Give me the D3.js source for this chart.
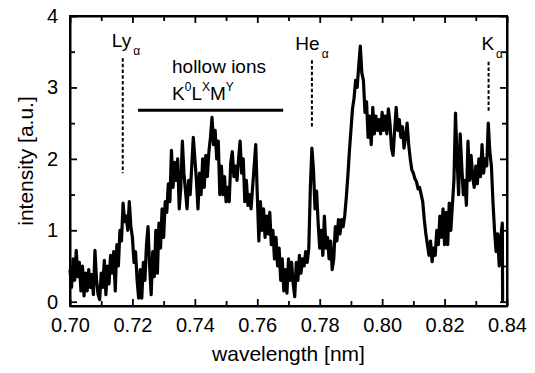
<!DOCTYPE html>
<html><head><meta charset="utf-8">
<script src="https://cdn.jsdelivr.net/npm/d3@7"></script>
<style>
html,body{margin:0;padding:0;background:#fff;}
svg{display:block;font-family:"Liberation Sans",Arial,sans-serif;}
</style></head>
<body><svg id="chart" width="535" height="373"></svg>
<script>
const spectrum = [
[0.7000,0.45],[0.7005,0.2],[0.7010,0.6],[0.7015,0.3],[0.7020,0.72],[0.7025,0.35],[0.7030,0.55],[0.7035,0.15],[0.7040,0.5],[0.7045,0.08],
[0.7050,0.4],[0.7055,0.15],[0.7060,0.45],[0.7065,0.2],[0.7070,0.38],[0.7075,0.1],[0.7080,0.72],[0.7085,0.3],[0.7090,0.1],[0.7095,0.03],
[0.7100,0.4],[0.7105,0.2],[0.7110,0.58],[0.7115,0.1],[0.7120,0.5],[0.7125,0.25],[0.7130,0.65],[0.7135,0.4],[0.7140,0.7],[0.7145,0.15],
[0.7150,0.8],[0.7155,0.5],[0.7160,1.0],[0.7165,0.85],[0.7170,1.38],[0.7175,1.12],[0.7180,1.2],[0.7185,1.0],[0.7190,1.4],[0.7195,1.05],
[0.7200,0.9],[0.7205,0.55],[0.7210,0.7],[0.7215,0.3],[0.7220,0.05],[0.7225,0.45],[0.7230,0.05],[0.7235,0.55],[0.7240,0.3],[0.7245,0.8],
[0.7250,1.05],[0.7255,0.5],[0.7260,0.1],[0.7265,0.7],[0.7270,0.35],[0.7275,1.0],[0.7280,0.4],[0.7285,1.1],[0.7290,0.75],[0.7295,1.3],
[0.7300,0.9],[0.7305,1.4],[0.7310,1.25],[0.7315,1.65],[0.7320,1.4],[0.7325,2.12],[0.7330,1.6],[0.7335,1.95],[0.7340,1.7],[0.7345,2.0],
[0.7350,1.3],[0.7355,1.6],[0.7360,2.25],[0.7365,1.8],[0.7370,1.55],[0.7375,1.3],[0.7380,1.7],[0.7385,1.5],[0.7390,1.9],[0.7395,2.3],
[0.7400,2.0],[0.7405,1.7],[0.7410,1.3],[0.7415,1.8],[0.7420,1.5],[0.7425,2.0],[0.7430,1.6],[0.7435,2.05],[0.7440,1.75],[0.7445,2.1],
[0.7450,2.3],[0.7455,2.58],[0.7460,2.2],[0.7465,2.4],[0.7470,2.0],[0.7475,2.25],[0.7480,1.5],[0.7485,1.9],[0.7490,1.5],[0.7495,1.75],
[0.7500,1.4],[0.7505,1.6],[0.7510,1.4],[0.7515,1.95],[0.7520,2.1],[0.7525,1.75],[0.7530,1.9],[0.7535,1.7],[0.7540,2.0],[0.7545,2.25],
[0.7550,1.8],[0.7555,2.0],[0.7560,1.4],[0.7565,1.7],[0.7570,1.35],[0.7575,1.5],[0.7580,1.3],[0.7585,1.6],[0.7590,1.9],[0.7595,2.2],
[0.7600,1.5],[0.7605,0.85],[0.7610,1.4],[0.7615,1.0],[0.7620,1.3],[0.7625,0.9],[0.7630,1.2],[0.7635,0.95],[0.7640,1.25],[0.7645,0.8],
[0.7650,1.0],[0.7655,0.6],[0.7660,0.9],[0.7665,0.5],[0.7670,0.75],[0.7675,0.3],[0.7680,0.6],[0.7685,0.15],[0.7690,0.45],[0.7695,0.12],
[0.7700,0.6],[0.7705,0.3],[0.7710,0.55],[0.7715,0.25],[0.7720,0.07],[0.7725,0.55],[0.7730,0.3],[0.7735,0.65],[0.7740,0.4],[0.7745,0.6],
[0.7750,0.5],[0.7755,0.7],[0.7760,0.55],[0.7765,0.75],[0.7770,1.6],[0.7775,2.15],[0.7780,1.85],[0.7785,1.3],[0.7790,1.55],[0.7795,1.1],
[0.7800,0.75],[0.7805,1.0],[0.7810,0.65],[0.7815,1.2],[0.7820,0.75],[0.7825,0.9],[0.7830,0.6],[0.7835,0.85],[0.7840,0.45],[0.7845,0.6],
[0.7850,1.05],[0.7855,0.85],[0.7860,1.15],[0.7865,0.95],[0.7870,1.15],[0.7875,1.05],[0.7880,1.2],[0.7885,1.45],[0.7890,1.75],[0.7895,2.1],
[0.7900,2.4],[0.7905,2.7],[0.7910,2.85],[0.7915,3.1],[0.7920,3.0],[0.7925,3.3],[0.7930,3.58],[0.7935,3.2],[0.7940,3.1],[0.7945,2.65],
[0.7950,2.8],[0.7955,2.3],[0.7960,2.6],[0.7965,2.2],[0.7970,2.72],[0.7975,2.35],[0.7980,2.6],[0.7985,2.4],[0.7990,2.55],[0.7995,2.35],
[0.8000,2.65],[0.8005,2.4],[0.8010,2.6],[0.8015,2.35],[0.8020,2.7],[0.8025,2.5],[0.8030,2.15],[0.8035,2.05],[0.8040,2.4],[0.8045,2.72],
[0.8050,2.4],[0.8055,2.55],[0.8060,2.3],[0.8065,2.45],[0.8070,2.15],[0.8075,2.3],[0.8080,2.5],[0.8085,2.2],[0.8090,2.0],[0.8095,1.85],
[0.8100,1.8],[0.8105,1.72],[0.8110,1.68],[0.8115,1.58],[0.8120,1.6],[0.8125,1.5],[0.8130,1.4],[0.8135,1.15],[0.8140,0.95],[0.8145,0.8],
[0.8150,0.65],[0.8155,0.85],[0.8160,0.56],[0.8165,0.75],[0.8170,0.65],[0.8175,1.0],[0.8180,0.8],[0.8185,1.2],[0.8190,0.9],[0.8195,1.3],
[0.8200,0.8],[0.8205,1.25],[0.8210,0.8],[0.8215,1.38],[0.8220,1.0],[0.8225,1.35],[0.8230,1.7],[0.8235,2.64],[0.8240,2.0],[0.8245,1.5],
[0.8250,2.35],[0.8255,1.9],[0.8260,1.5],[0.8265,1.7],[0.8270,1.35],[0.8275,2.25],[0.8280,1.7],[0.8285,2.05],[0.8290,1.75],[0.8295,1.6],
[0.8300,1.9],[0.8305,1.65],[0.8310,2.0],[0.8315,1.75],[0.8320,2.2],[0.8325,1.8],[0.8330,2.0],[0.8335,1.9],[0.8340,2.5],[0.8345,2.1],
[0.8350,1.9],[0.8355,1.4],[0.8360,1.0],[0.8365,0.7],[0.8370,0.95],[0.8375,0.5],[0.8380,0.9],[0.8385,1.1],[0.8386,0.0]
];

const xTickValues = [0.70,0.72,0.74,0.76,0.78,0.80,0.82,0.84];
const xMinorValues = [0.71,0.73,0.75,0.77,0.79,0.81,0.83];
const yTickValues = [0,1,2,3,4];
const yMinorValues = [0.5,1.5,2.5,3.5];

const lineLabels = [
  {name:"Ly", sub:"\u03b1", wl:0.7169, top:3.41, bottom:1.80, tx:0.7134, ty:3.56},
  {name:"He", sub:"\u03b1", wl:0.7775, top:3.38, bottom:2.45, tx:0.7722, ty:3.52},
  {name:"K",  sub:"\u03b1", wl:0.8341, top:3.36, bottom:2.66, tx:0.8318, ty:3.52}
];
const hollowBand = {from:0.7218, to:0.7683, level:2.68};
const hollowTitle = "hollow ions";

const W=535,H=373;
const m={left:70,right:507,top:16,bottom:306};
const x=d3.scaleLinear().domain([0.70,0.84]).range([m.left,m.right]);
const y=d3.scaleLinear().domain([-0.06,4]).range([m.bottom,m.top]);
const svg=d3.select("#chart");

function styleAxis(g){
  g.selectAll("path").attr("stroke","#000").attr("stroke-width",2);
  g.selectAll("line").attr("stroke","#000").attr("stroke-width",1.8);
  g.selectAll("text").attr("fill","#000").attr("font-size","20px").attr("font-family","'Liberation Sans',Arial,sans-serif");
}
const fmt=d3.format(".2f");
svg.append("g").attr("transform",`translate(0,${m.bottom})`)
  .call(d3.axisBottom(x).tickValues(xTickValues).tickFormat(fmt).tickSizeInner(-7).tickSizeOuter(0).tickPadding(12))
  .call(styleAxis);
svg.append("g").attr("transform",`translate(0,${m.bottom})`)
  .call(d3.axisBottom(x).tickValues(xMinorValues).tickFormat("").tickSizeInner(-5).tickSizeOuter(0))
  .call(styleAxis).select("path").remove();
svg.append("g").attr("transform",`translate(0,${m.top})`)
  .call(d3.axisTop(x).tickValues(xTickValues).tickFormat("").tickSizeInner(-7).tickSizeOuter(0))
  .call(styleAxis);
svg.append("g").attr("transform",`translate(0,${m.top})`)
  .call(d3.axisTop(x).tickValues(xMinorValues).tickFormat("").tickSizeInner(-5).tickSizeOuter(0))
  .call(styleAxis).select("path").remove();
svg.append("g").attr("transform",`translate(${m.left},0)`)
  .call(d3.axisLeft(y).tickValues(yTickValues).tickFormat(d3.format("d")).tickSizeInner(-7).tickSizeOuter(0).tickPadding(12))
  .call(styleAxis);
svg.append("g").attr("transform",`translate(${m.left},0)`)
  .call(d3.axisLeft(y).tickValues(yMinorValues).tickFormat("").tickSizeInner(-5).tickSizeOuter(0))
  .call(styleAxis).select("path").remove();
svg.append("g").attr("transform",`translate(${m.right},0)`)
  .call(d3.axisRight(y).tickValues(yTickValues).tickFormat("").tickSizeInner(-7).tickSizeOuter(0))
  .call(styleAxis);
svg.append("g").attr("transform",`translate(${m.right},0)`)
  .call(d3.axisRight(y).tickValues(yMinorValues).tickFormat("").tickSizeInner(-5).tickSizeOuter(0))
  .call(styleAxis).select("path").remove();
svg.append("rect").attr("x",m.left).attr("y",m.top).attr("width",m.right-m.left).attr("height",m.bottom-m.top)
  .attr("fill","none").attr("stroke","#000").attr("stroke-width",2);

const line=d3.line().x(d=>x(d[0])).y(d=>y(d[1]));
svg.append("path").datum(spectrum).attr("d",line).attr("fill","none")
  .attr("stroke","#000").attr("stroke-width",3.2).attr("stroke-linejoin","round");

const ann=svg.append("g").attr("font-family","'Liberation Sans',Arial,sans-serif").attr("fill","#000");
lineLabels.forEach(l=>{
  ann.append("line").attr("x1",x(l.wl)).attr("x2",x(l.wl)).attr("y1",y(l.top)).attr("y2",y(l.bottom))
    .attr("stroke","#000").attr("stroke-width",2).attr("stroke-dasharray","3.5,2.2");
  const t=ann.append("text").attr("x",x(l.tx)).attr("y",y(l.ty)).attr("font-size","19px");
  t.append("tspan").text(l.name);
  t.append("tspan").attr("dx",2).attr("dy",8).attr("font-size","12px").text(l.sub);
});

ann.append("line").attr("x1",x(hollowBand.from)).attr("x2",x(hollowBand.to))
  .attr("y1",y(hollowBand.level)).attr("y2",y(hollowBand.level)).attr("stroke","#000").attr("stroke-width",3);
ann.append("text").attr("x",172).attr("y",73).attr("font-size","19px").text(hollowTitle);
const k=ann.append("text").attr("x",172).attr("y",100).attr("font-size","19px");
k.append("tspan").text("K");
k.append("tspan").attr("dy",-9).attr("font-size","12px").text("0");
k.append("tspan").attr("dy",9).text("L");
k.append("tspan").attr("dy",-9).attr("font-size","12px").text("X");
k.append("tspan").attr("dy",9).text("M");
k.append("tspan").attr("dy",-9).attr("font-size","12px").text("Y");

svg.append("text").attr("x",(m.left+m.right)/2).attr("y",361).attr("text-anchor","middle")
  .attr("font-size","21px").text("wavelength [nm]");
svg.append("text").attr("transform",`translate(33,${(m.top+m.bottom)/2}) rotate(-90)`).attr("text-anchor","middle")
  .attr("font-size","21px").text("intensity [a.u.]");
</script></body></html>
